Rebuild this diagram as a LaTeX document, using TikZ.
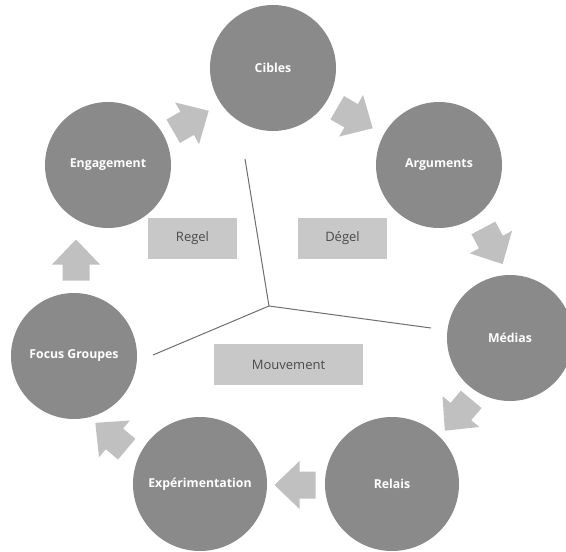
\documentclass[tikz,border=0pt]{standalone}
\usepackage{fontspec}
\setmainfont{Open Sans}
\definecolor{circ}{HTML}{8A8A8A}
\definecolor{arr}{HTML}{C0C0C0}
\definecolor{boxc}{HTML}{C8C8C8}
\definecolor{txt}{HTML}{4A4A4A}
\definecolor{ln}{HTML}{6E6E6E}
\tikzset{
  stage/.style={circle, fill=circ, text=white, font=\bfseries\fontsize{12.3}{15}\selectfont, minimum size=#1, inner sep=0pt},
  phase/.style={rectangle, fill=boxc, text=txt, font=\fontsize{13}{15}\selectfont, minimum height=41pt, minimum width=#1, inner sep=0pt},
  divider/.style={draw=ln, line width=1pt},
  cyclearrow/.style={fill=arr}
}
\newcommand\blockarr[3]{%
  \fill[cyclearrow, shift={(#1,#2)}, rotate=#3]
    (-20.5,-13.5) -- (-4.5,-13.5) -- (-4.5,-24) -- (20.5,0) -- (-4.5,24) -- (-4.5,13.5) -- (-20.5,13.5) -- cycle;}
\begin{document}
\begin{tikzpicture}[x=1pt, y=-1pt]
  \useasboundingbox (0,0) rectangle (566,552);
  \clip (0,0) rectangle (566,552);

  % dividers
  \coordinate (hub) at (269,306);
  \coordinate (endT) at (245,159);
  \coordinate (endR) at (431,328);
  \coordinate (endL) at (153,355);
  \draw[divider] (hub) -- (endT);
  \draw[divider] (hub) -- (endR);
  \draw[divider] (hub) -- (endL);

  % stages
  \node[stage=126pt] (cib) at (273,68) {Cibles};
  \node[stage=126pt] (arg) at (439,165) {Arguments};
  \node[stage=126pt] (med) at (510,338) {Médias};
  \node[stage=134pt] (rel) at (392,484) {Relais};
  \node[stage=134pt] (exp) at (200,484) {Expérimentation};
  \node[stage=126pt] (foc) at (74,356) {Focus Groupes};
  \node[stage=126pt] (eng) at (108,165) {Engagement};

  % arrows
  \blockarr{191}{121}{30}
  \blockarr{355}{118}{-30}
  \blockarr{493}{246}{-62}
  \blockarr{458}{415}{-130}
  \blockarr{295}{485}{180}
  \blockarr{111}{436}{140}
  \blockarr{76}{260}{90}

  % phases
  \node[phase=89pt] (regel) at (192.5,238.5) {Regel};
  \node[phase=89pt] (degel) at (342.5,238.5) {Dégel};
  \node[phase=149pt] (mouv) at (288.5,364.5) {Mouvement};
\end{tikzpicture}
\end{document}
